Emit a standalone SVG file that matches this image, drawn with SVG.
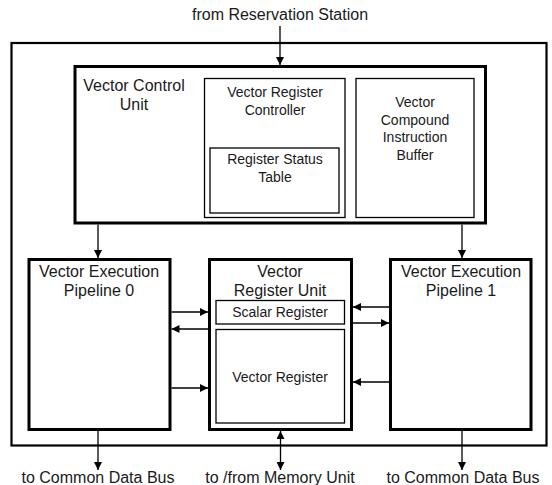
<svg xmlns="http://www.w3.org/2000/svg" width="552" height="485" viewBox="0 0 552 485">
<style>
text{font-family:"Liberation Sans",Arial,sans-serif;fill:#1a1a1a;text-anchor:middle}
.lg{font-size:16px}
.sm{font-size:14px}
.thick{fill:#fff;stroke:#000;stroke-width:3}
.outer{fill:#fff;stroke:#000;stroke-width:2.2}
.thin{fill:#fff;stroke:#000;stroke-width:1.3}
.conn line{stroke:#000;stroke-width:1.3}
</style>
<defs>
<marker id="ah" viewBox="0 0 10 10" refX="10" refY="5" markerWidth="8" markerHeight="8" markerUnits="userSpaceOnUse" orient="auto-start-reverse">
<path d="M0,0 L10,5 L0,10 z" fill="#000"/>
</marker>
</defs>
<rect width="552" height="485" fill="#fff"/>
<text class="lg" x="280" y="20">from Reservation Station</text>
<g id="outer"><rect class="outer" x="11.5" y="43" width="535" height="402.5"/></g>
<g id="vcu">
<rect class="thick" x="75" y="66.5" width="410.5" height="156.5"/>
<text class="lg" x="134" y="91">Vector Control</text>
<text class="lg" x="134" y="110">Unit</text>
</g>
<g id="vrc">
<rect class="thin" x="204.5" y="78.5" width="140.5" height="139"/>
<text class="sm" x="275" y="97">Vector Register</text>
<text class="sm" x="275" y="115">Controller</text>
</g>
<g id="rst">
<rect class="thin" x="210" y="148" width="129" height="65"/>
<text class="sm" x="275" y="164">Register Status</text>
<text class="sm" x="275" y="182">Table</text>
</g>
<g id="vcib">
<rect class="thin" x="356" y="78.5" width="118" height="139"/>
<text class="sm" x="415" y="107">Vector</text>
<text class="sm" x="415" y="124.5">Compound</text>
<text class="sm" x="415" y="142">Instruction</text>
<text class="sm" x="415" y="159.5">Buffer</text>
</g>
<g id="pipe0">
<rect class="thick" x="29" y="259.5" width="141" height="170"/>
<text class="lg" x="99" y="277">Vector Execution</text>
<text class="lg" x="99" y="296">Pipeline 0</text>
</g>
<g id="vru">
<rect class="thick" x="209.5" y="259.5" width="142" height="170"/>
<text class="lg" x="280" y="277">Vector</text>
<text class="lg" x="280" y="296">Register Unit</text>
</g>
<g id="scalar">
<rect class="thin" x="216" y="300.5" width="128.5" height="23.5"/>
<text class="sm" x="280" y="317">Scalar Register</text>
</g>
<g id="vreg">
<rect class="thin" x="216" y="329.5" width="128.5" height="93.5"/>
<text class="sm" x="280" y="382">Vector Register</text>
</g>
<g id="pipe1">
<rect class="thick" x="390.5" y="259.5" width="140.5" height="170"/>
<text class="lg" x="461" y="277">Vector Execution</text>
<text class="lg" x="461" y="296">Pipeline 1</text>
</g>
<g id="connectors" class="conn">
<line x1="280" y1="26" x2="280" y2="65" marker-end="url(#ah)"/>
<line x1="98" y1="224.5" x2="98" y2="258" marker-end="url(#ah)"/>
<line x1="462" y1="224.5" x2="462" y2="258" marker-end="url(#ah)"/>
<line x1="171.5" y1="312" x2="208" y2="312" marker-end="url(#ah)"/>
<line x1="208" y1="329" x2="171.5" y2="329" marker-end="url(#ah)"/>
<line x1="171.5" y1="388" x2="208" y2="388" marker-end="url(#ah)"/>
<line x1="389" y1="307" x2="353" y2="307" marker-end="url(#ah)"/>
<line x1="353" y1="323" x2="389" y2="323" marker-end="url(#ah)"/>
<line x1="389" y1="382" x2="353" y2="382" marker-end="url(#ah)"/>
<line x1="98" y1="431" x2="98" y2="470" marker-end="url(#ah)"/>
<line x1="462" y1="431" x2="462" y2="470" marker-end="url(#ah)"/>
<line x1="280.5" y1="431" x2="280.5" y2="470" marker-start="url(#ah)" marker-end="url(#ah)"/>
</g>
<text class="lg" x="98" y="483">to Common Data Bus</text>
<text class="lg" x="280" y="483">to /from Memory Unit</text>
<text class="lg" x="463" y="483">to Common Data Bus</text>
</svg>
